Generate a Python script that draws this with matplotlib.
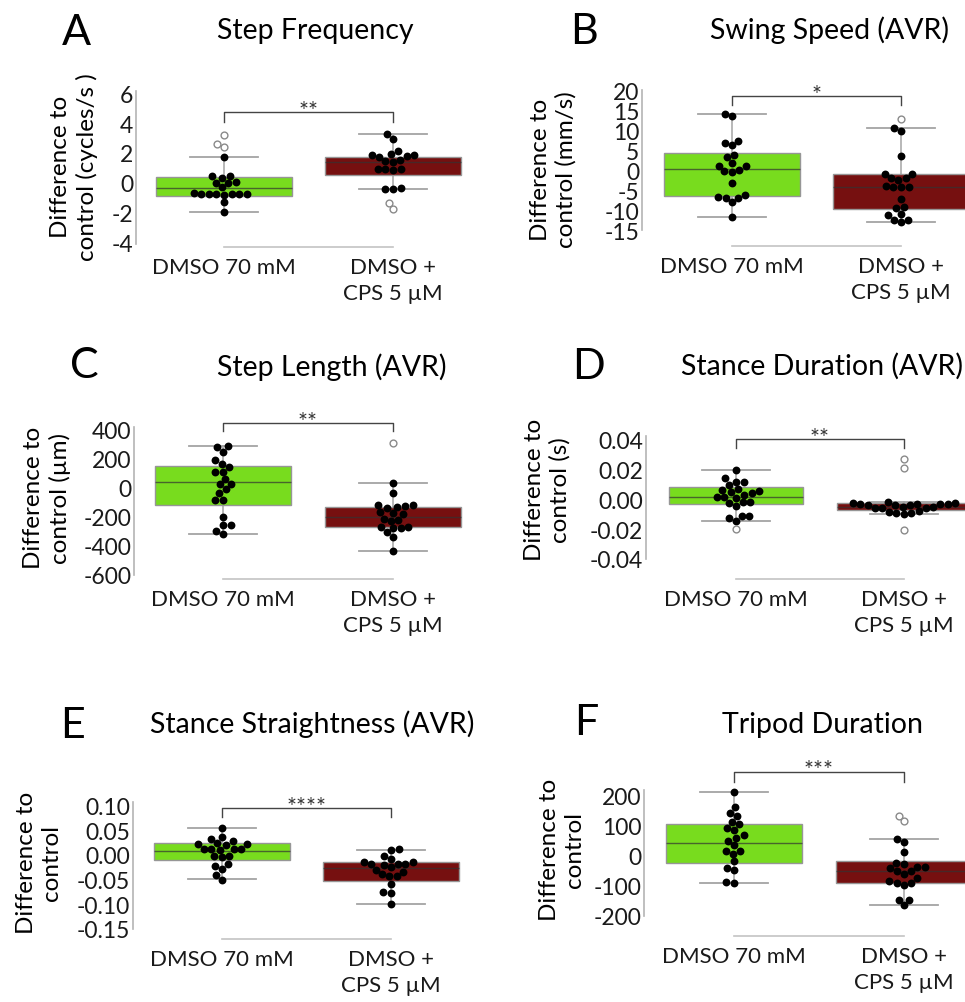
#!/usr/bin/env python3

import numpy as np
import matplotlib
matplotlib.use("Agg")
import matplotlib.pyplot as plt

W, H = 965, 1003
plt.rcParams["font.family"] = ["Lato", "DejaVu Sans"]
plt.rcParams["axes.unicode_minus"] = False

GREEN = "#78dc1e"
RED = "#761010"
groups = ["DMSO 70 mM", "DMSO +\nCPS 5 µM"]

# ---- data (values in panel units) ----
# box stats: [whisker low, q1, median, q3, whisker high]
a_dmso = [1.7, 0.47, 0.43, 0.3, 0.03, 0.0, -0.02, -0.31, -0.72, -0.76, -0.76,
          -0.78, -0.8, -0.78, -0.74, -0.76, -1.32, -1.99]
a_dmso_out = [3.2, 2.6, 2.4]
a_cps = [3.3, 2.95, 2.15, 1.9, 1.85, 1.85, 1.8, 1.75, 1.5, 1.45, 1.4, 0.95,
         0.92, 0.9, 0.88, -0.38, -0.4, -0.45]
a_cps_out = [-1.35, -1.78]
a_box_dmso = [-2.0, -0.88, -0.36, 0.36, 1.7]
a_box_cps = [-0.45, 0.52, 1.41, 1.75, 3.27]

b_dmso = [14.2, 13.6, 7.4, 6.8, 6.4, 3.9, 3.3, 1.9, 1.06, 1.0, 0.07, -0.2,
          -0.4, -3.1, -6.1, -6.8, -6.9, -6.9, -8.0, -11.8]
b_dmso_out = []
b_cps = [10.7, 9.9, 3.7, -0.8, -1.0, -1.8, -1.8, -2.5, -4.0, -4.1, -4.3, -4.3,
         -7.2, -9.1, -9.4, -10.9, -11.3, -12.4, -12.4, -13.0]
b_cps_out = [12.8]
b_box_dmso = [-11.8, -6.35, 0.3, 4.36, 14.1]
b_box_cps = [-12.9, -9.7, -4.1, -1.0, 10.7]

c_dmso = [281, 274, 244, 187, 160, 141, 107, 107, 57, 23, 23, -10, -41, -87,
          -87, -200, -255, -255, -297, -319]
c_dmso_out = []
c_cps = [30, -41, -118, -130, -140, -132, -120, -170, -180, -175, -215, -228,
         -220, -278, -275, -272, -269, -308, -338, -438]
c_cps_out = [304]
c_box_dmso = [-319, -118, 35, 144, 281]
c_box_cps = [-438, -269, -201, -132, 30]

d_dmso = [0.0197, 0.014, 0.0119, 0.0119, 0.0097, 0.0068, 0.0063, 0.0058,
          0.0048, 0.004, 0.003, 0.0015, 0.0015, 0.0008, -0.0015, -0.002,
          -0.0025, -0.0045, -0.011, -0.0114, -0.0123, -0.0146]
d_dmso_out = [-0.0202]
d_cps = [-0.0015, -0.0025, -0.0025, -0.003, -0.003, -0.003, -0.003, -0.0035,
         -0.0035, -0.0035, -0.005, -0.005, -0.0055, -0.006, -0.006, -0.008,
         -0.0085, -0.009, -0.0095, -0.01]
d_cps_out = [0.027, 0.0209, -0.0204]
d_box_dmso = [-0.0146, -0.003, 0.0015, 0.0082, 0.0197]
d_box_cps = [-0.0097, -0.007, -0.0052, -0.0026, -0.0015]

e_dmso = [0.055, 0.037, 0.032, 0.028, 0.024, 0.021, 0.021, 0.02, 0.012, 0.011,
          0.011, 0.01, 0.011, -0.002, -0.005, -0.003, -0.018, -0.022, -0.028,
          -0.041, -0.05]
e_dmso_out = []
e_cps = [0.011, 0.009, -0.002, -0.009, -0.014, -0.014, -0.018, -0.018, -0.018,
         -0.02, -0.025, -0.03, -0.035, -0.038, -0.043, -0.043, -0.058, -0.076,
         -0.078, -0.099]
e_cps_out = []
e_box_dmso = [-0.049, -0.0099, 0.008, 0.0243, 0.055]
e_box_cps = [-0.099, -0.0526, -0.0257, -0.0138, 0.0092]

f_dmso = [210, 161, 143, 131, 112, 104, 92, 85, 68, 60, 50, 36, 14, 14, 6,
          -19, -41, -46, -88, -90]
f_dmso_out = []
f_cps = [54, 47, 11.5, -25, -28, -36, -36, -40, -50, -52, -60, -74, -85, -90,
         -90, -96, -147, -147, -165]
f_cps_out = [132, 114]
f_box_dmso = [-90, -24.7, 43, 104.7, 210]
f_box_cps = [-165, -90, -52, -17, 54]

titles = ["Step Frequency", "Swing Speed (AVR)", "Step Length (AVR)",
          "Stance Duration (AVR)", "Stance Straightness (AVR)", "Tripod Duration"]
letters = ["A", "B", "C", "D", "E", "F"]
ylabels = ["Difference to\ncontrol (cycles/s )", "Difference to\ncontrol (mm/s)",
           "Difference to\ncontrol (µm)", "Difference to\ncontrol (s)",
           "Difference to\ncontrol", "Difference to\ncontrol"]
stars = ["**", "*", "**", "**", "****", "***"]
yticks = [[-4, -2, 0, 2, 4, 6],
          [-15, -10, -5, 0, 5, 10, 15, 20],
          [-600, -400, -200, 0, 200, 400],
          [-0.04, -0.02, 0.00, 0.02, 0.04],
          [-0.15, -0.10, -0.05, 0.00, 0.05, 0.10],
          [-200, -100, 0, 100, 200]]
ytick_fmt = ["{:d}", "{:d}", "{:d}", "{:.2f}", "{:.2f}", "{:d}"]
# bracket height and drop, in panel units
brackets = [(4.73, 4.1), (18.75, 16.4), (438, 388), (0.0404, 0.0344),
            (0.0947, 0.077), (279, 244)]

points = [(a_dmso, a_cps), (b_dmso, b_cps), (c_dmso, c_cps),
          (d_dmso, d_cps), (e_dmso, e_cps), (f_dmso, f_cps)]
outliers = [(a_dmso_out, a_cps_out), (b_dmso_out, b_cps_out),
            (c_dmso_out, c_cps_out), (d_dmso_out, d_cps_out),
            (e_dmso_out, e_cps_out), (f_dmso_out, f_cps_out)]
boxes = [(a_box_dmso, a_box_cps), (b_box_dmso, b_box_cps),
         (c_box_dmso, c_box_cps), (d_box_dmso, d_box_cps),
         (e_box_dmso, e_box_cps), (f_box_dmso, f_box_cps)]
ylims = [(-4.13, 6.17), (-14.4, 20.2), (-600, 414), (-0.0397, 0.0424),
         (-0.1435, 0.107), (-197, 218)]

# ---- layout in pixels ----
# spine x, axes top, axes bottom, group centre 0, group centre 1, x-line y
layout = [(136, 92, 245, 224, 393, 248),
          (642, 91, 231, 732, 901, 247),
          (134, 428, 576, 223, 393, 580),
          (646, 437, 560, 736, 904, 580),
          (133, 803, 930, 222, 391, 940),
          (644, 791, 917, 734, 904, 937)]
title_pos = [(315, 39), (829, 39), (332, 376), (822, 375), (312, 733), (823, 733)]
letter_pos = [(76, 45), (584, 44), (84, 378), (589, 379), (72, 738), (586, 735)]
ylabel_pos = [(74, 167), (553, 170), (47, 498), (547, 490), (39, 863), (562, 850)]

fig = plt.figure(figsize=(W / 100, H / 100), dpi=100)


def fx(x):
    return x / W


def fy(y):
    return 1 - y / H


def swarm_x(ax, pos, vals, d=7.6):
    # simple beeswarm in pixel space, returns x positions in data units
    vals = np.asarray(vals, dtype=float)
    if len(vals) == 0:
        return vals
    ys = ax.transData.transform(np.column_stack([np.full(len(vals), pos), vals]))[:, 1]
    xs = np.zeros(len(vals))
    placed = []
    for i in np.argsort(ys):
        y = ys[i]
        bounds = []
        for px, py in placed:
            dy = abs(py - y)
            if dy < d:
                dx = np.sqrt(d * d - dy * dy)
                bounds.append((px - dx, px + dx))
        cands = sorted([0.0] + [b for iv in bounds for b in iv], key=abs)
        for c in cands:
            if all(not (lo + 1e-6 < c < hi - 1e-6) for lo, hi in bounds):
                xs[i] = c
                break
        placed.append((xs[i], y))
    k = ax.transData.transform([(1, 0)])[0, 0] - ax.transData.transform([(0, 0)])[0, 0]
    return pos + xs / k


for p in range(6):
    L, top, bot, c0, c1, xline = layout[p]
    k = c1 - c0
    R = c0 + 1.5 * k
    ax = fig.add_axes([fx(L), fy(bot), (R - L) / W, (bot - top) / H])
    ax.patch.set_alpha(0)

    for g, color in enumerate([GREEN, RED]):
        lo, q1, med, q3, hi = boxes[p][g]
        st = dict(med=med, q1=q1, q3=q3, whislo=lo, whishi=hi, fliers=[])
        b = ax.bxp([st], positions=[g], widths=0.8, capwidths=0.4,
                   patch_artist=True, showfliers=False, manage_ticks=False,
                   boxprops=dict(facecolor=color, edgecolor="#969696", linewidth=1),
                   medianprops=dict(color="#333333", linewidth=1, alpha=0.7),
                   whiskerprops=dict(color="#a4a4a4", linewidth=1.1),
                   capprops=dict(color="#a4a4a4", linewidth=1.3))
        for w in b["whiskers"] + b["caps"]:
            w.set_zorder(1)
        b["boxes"][0].set_zorder(2)
        b["medians"][0].set_zorder(3)

    ax.set_xlim((L - c0) / k, 1.5)
    ax.set_ylim(*ylims[p])

    for spine in ["top", "right"]:
        ax.spines[spine].set_visible(False)
    ax.spines["left"].set_color("#b4b4b4")
    ax.spines["left"].set_linewidth(1.2)
    ax.spines["bottom"].set_color("#c4c4c4")
    ax.spines["bottom"].set_linewidth(1.2)
    ax.spines["bottom"].set_position(("outward", (xline - bot) * 0.72))
    ax.spines["bottom"].set_bounds(0, 1)

    ax.set_yticks(yticks[p])
    ax.set_yticklabels([ytick_fmt[p].format(v) for v in yticks[p]])
    ax.set_xticks([0, 1])
    ax.set_xticklabels(groups)
    ax.tick_params(axis="y", length=0, pad=2, labelsize=16.5, labelcolor="#1a1a1a")
    ax.tick_params(axis="x", length=0, pad=7, labelsize=16, labelcolor="#1a1a1a")
    for lab in ax.get_xticklabels():
        lab.set_linespacing(1.4)

    for g in range(2):
        xs = swarm_x(ax, g, points[p][g])
        ax.scatter(xs, points[p][g], s=32, color="black", zorder=4,
                   linewidths=0, clip_on=False)
        if outliers[p][g]:
            xo = swarm_x(ax, g, outliers[p][g])
            ax.scatter(xo, outliers[p][g], s=24, facecolor="white",
                       edgecolor="#8a8a8a", linewidths=1, zorder=4, clip_on=False)

    # significance bracket
    yb, yd = brackets[p]
    ax.plot([0, 0, 1, 1], [yd, yb, yb, yd], color="#444444", lw=1, clip_on=False)
    ax.annotate(stars[p], (0.5, yb), xytext=(0, -3.5), textcoords="offset points",
                ha="center", va="baseline", fontsize=17, color="#333333",
                annotation_clip=False)

    tx, ty = title_pos[p]
    fig.text(fx(tx), fy(ty), titles[p], ha="center", va="baseline", fontsize=20.5)
    lx, ly = letter_pos[p]
    fig.text(fx(lx), fy(ly), letters[p], ha="center", va="baseline", fontsize=31)
    yx, yy = ylabel_pos[p]
    fig.text(fx(yx), fy(yy), ylabels[p], ha="center", va="center", rotation=90,
             fontsize=17.5, linespacing=1.25, multialignment="center")

fig.savefig("out.png", dpi=100)
